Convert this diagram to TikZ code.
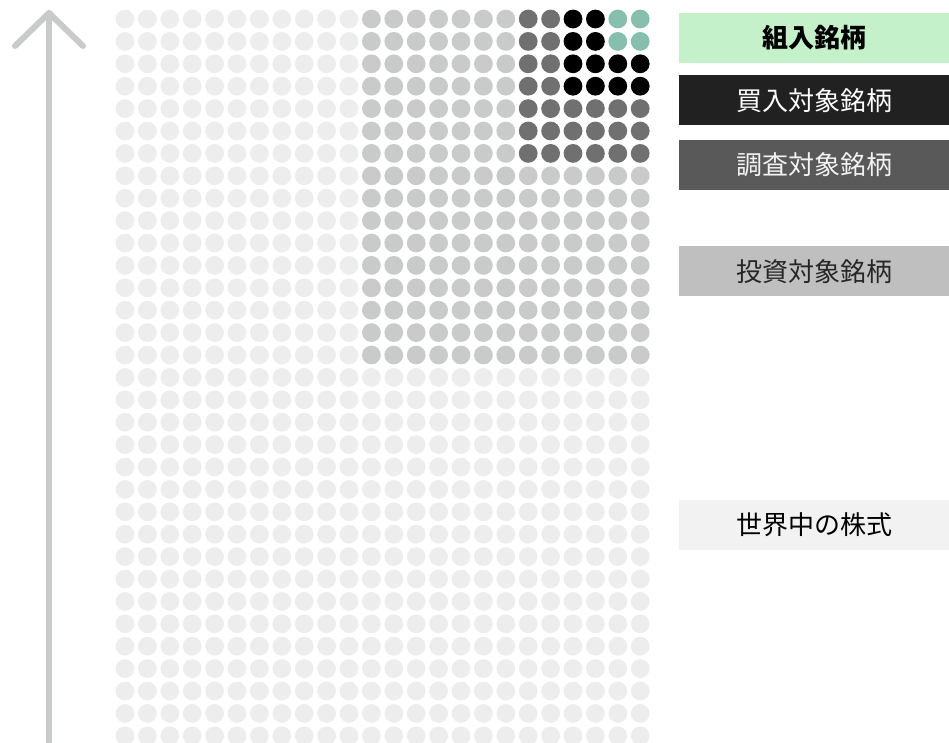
\documentclass[tikz,border=0pt]{standalone}
\usepackage{fontspec}
\usepackage{tikz}
\usetikzlibrary{positioning}
\newfontfamily\jp{Noto Sans CJK JP}
\definecolor{worldc}{RGB}{237,237,237}
\definecolor{investc}{RGB}{201,203,202}
\definecolor{researchc}{RGB}{112,112,112}
\definecolor{buyc}{RGB}{0,0,0}
\definecolor{holdc}{RGB}{134,191,174}
\definecolor{holdbox}{RGB}{196,240,202}

\begin{document}
\begin{tikzpicture}[x=1pt,y=-1pt,node distance=12pt,font=\jp\fontsize{26}{26}\selectfont]
  \tikzstyle{dot}=[radius=9.4]
  \tikzstyle{tag}=[rectangle,minimum width=270pt,minimum height=50pt,inner sep=0pt]
  \tikzstyle{axis}=[draw=investc,line width=6pt,line cap=round,line join=round]

  \useasboundingbox (0,0) rectangle (949,742);

  \foreach \ca/\cb/\ra/\rb/\col in {0/23/16/32/worldc, 0/10/0/15/worldc,
      11/23/7/15/investc, 11/17/0/6/investc, 18/23/4/6/researchc,
      18/19/0/3/researchc, 20/23/2/3/buyc, 20/21/0/1/buyc, 22/23/0/1/holdc}
    \foreach \c in {\ca,...,\cb}
      \foreach \r in {\ra,...,\rb}
        \fill[dot,color=\col] ({125+22.4*\c},{19+22.4*\r}) circle;

  \coordinate (axbot) at (49,746);
  \coordinate (axtop) at (49,13);
  \coordinate (headl) at (15,46);
  \coordinate (headr) at (83,46);
  \draw[axis] (axbot) -- (axtop);
  \draw[axis] (headl) -- (axtop) -- (headr);

  \node [tag,fill=holdbox,font=\jp\bfseries\fontsize{26}{26}\selectfont] (hold) at (814,38) {組入銘柄};
  \node [tag,fill=black!87,text=white] (buy) [below=of hold] {買入対象銘柄};
  \node [tag,fill=black!65,text=black!5] (research) [below=14pt of buy] {調査対象銘柄};
  \node [tag,fill=black!25,text=black!85] (invest) [below=56pt of research] {投資対象銘柄};
  \node [tag,fill=black!5] (world) [below=203pt of invest] {世界中の株式};
\end{tikzpicture}
\end{document}
